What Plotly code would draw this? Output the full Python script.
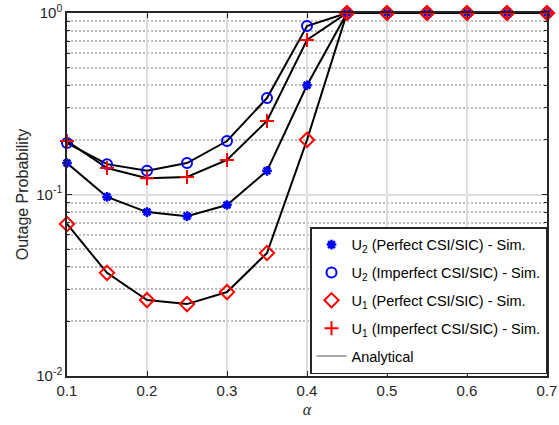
import plotly.graph_objects as go

alpha = [0.1, 0.15, 0.2, 0.25, 0.3, 0.35, 0.4, 0.45, 0.5, 0.55, 0.6, 0.65, 0.7]
u2_perfect = [0.149, 0.097, 0.080, 0.076, 0.0875, 0.135, 0.40, 1, 1, 1, 1, 1, 1]
u2_imperfect = [0.192, 0.147, 0.135, 0.149, 0.197, 0.34, 0.848, 1, 1, 1, 1, 1, 1]
u1_perfect = [0.0688, 0.037, 0.0262, 0.0249, 0.029, 0.0476, 0.20, 1, 1, 1, 1, 1, 1]
u1_imperfect = [0.197, 0.14, 0.123, 0.125, 0.155, 0.254, 0.71, 1, 1, 1, 1, 1, 1]

y_tickvals = [0.01, 0.1, 1]
y_ticktext = ["10<sup>-2</sup>", "10<sup>-1</sup>", "10<sup>0</sup>"]
minor_vals = [m * d for d in (0.01, 0.1) for m in range(2, 10)]
x_tickvals = [0.1, 0.2, 0.3, 0.4, 0.5, 0.6, 0.7]

FONT = "Liberation Sans, Arial, sans-serif"
fig = go.Figure()

# analytical lines
for ys in [u2_perfect, u2_imperfect, u1_perfect, u1_imperfect]:
    fig.add_trace(go.Scatter(x=alpha, y=ys, mode="lines",
                             line=dict(color="black", width=2),
                             showlegend=False, cliponaxis=False))

fig.add_trace(go.Scatter(x=alpha, y=u2_perfect, mode="markers", name="U<sub>2</sub> (Perfect CSI/SIC) - Sim.",
                         legendgroup="a",
                         marker=dict(symbol="asterisk-open", size=8, line=dict(color="blue", width=2.5), color="blue"),
                         cliponaxis=False))
fig.add_trace(go.Scatter(x=alpha, y=u2_imperfect, mode="markers", name="U<sub>2</sub> (Imperfect CSI/SIC) - Sim.",
                         legendgroup="b",
                         marker=dict(symbol="circle-open", size=10, line=dict(color="blue", width=2), color="blue"),
                         cliponaxis=False))
fig.add_trace(go.Scatter(x=alpha, y=u1_perfect, mode="markers", name="U<sub>1</sub> (Perfect CSI/SIC) - Sim.",
                         legendgroup="c",
                         marker=dict(symbol="diamond-open", size=11, line=dict(color="red", width=2), color="red"),
                         cliponaxis=False))
fig.add_trace(go.Scatter(x=alpha, y=u1_imperfect, mode="markers", name="U<sub>1</sub> (Imperfect CSI/SIC) - Sim.",
                         legendgroup="d",
                         marker=dict(symbol="cross-thin-open", size=10, line=dict(color="red", width=2), color="red"),
                         cliponaxis=False))
fig.add_trace(go.Scatter(x=[None], y=[None], mode="lines", name="Analytical", legendgroup="e",
                         line=dict(color="#555555", width=1)))

axis_common = dict(showline=True, linecolor="#262626", linewidth=1.5, mirror="allticks",
                   ticks="inside", tickcolor="#262626", zeroline=False, automargin=False,
                   gridcolor="#dedede", gridwidth=1.5,
                   tickfont=dict(family=FONT, size=15, color="#262626"))

fig.update_xaxes(range=[0.1, 0.7], tickvals=x_tickvals, ticklen=5,
                 title=dict(text="<i>α</i>", font=dict(family="Liberation Serif, Times New Roman, serif", size=16, color="#262626"), standoff=6),
                 **axis_common)
fig.update_yaxes(type="log", range=[-2, 0], tickvals=y_tickvals, ticktext=y_ticktext, ticklen=5,
                 title=dict(text="Outage Probability", font=dict(family=FONT, size=16, color="#262626"), standoff=4),
                 minor=dict(tickvals=minor_vals, showgrid=True, griddash="2px,2px", gridcolor="#bdbdbd",
                            gridwidth=1.5, ticks="inside", ticklen=3, tickcolor="#262626"),
                 **axis_common)

fig.update_layout(
    width=559, height=425,
    margin=dict(l=67, r=12, t=13, b=49),
    plot_bgcolor="white", paper_bgcolor="white",
    font=dict(family=FONT, size=15, color="black"),
    legend=dict(x=1, y=0.005, xanchor="right", yanchor="bottom",
                bgcolor="white", bordercolor="#262626", borderwidth=1.5,
                font=dict(family=FONT, size=14.5, color="black"),
                traceorder="grouped", tracegroupgap=6),
)

fig.write_html("out.html")
